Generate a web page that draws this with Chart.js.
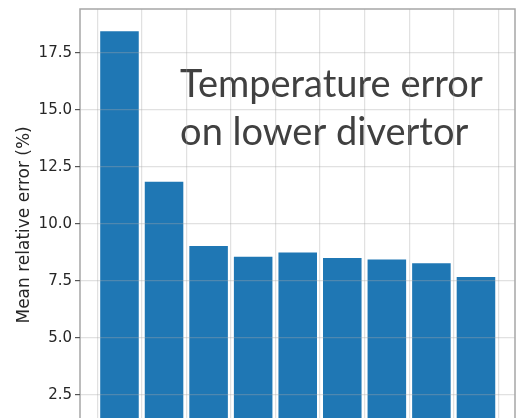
<!DOCTYPE html>
<html>
<head>
<meta charset="utf-8">
<script src="https://cdn.jsdelivr.net/npm/chart.js@4"></script>
<style>
  html, body { margin: 0; padding: 0; background: #fff; overflow: hidden; }
  #wrap { width: 523px; height: 418px; }
</style>
</head>
<body>
<div id="wrap"><canvas id="errChart" width="523" height="418"></canvas></div>
<script>
// bar positions and mean relative errors (%)
const positions = [0, 1, 2, 3, 4, 5, 6, 7, 8];
const errors = [18.5, 11.9, 9.08, 8.61, 8.79, 8.55, 8.49, 8.32, 7.72];
const yTicks = [2.5, 5.0, 7.5, 10.0, 12.5, 15.0, 17.5];
const xGrid = [-0.5, 0.5, 1.5, 2.5, 3.5, 4.5, 5.5, 6.5, 7.5, 8.5];
const yTitle = "Mean relative error (%)";
const noteLines = ["Temperature error", "on lower divertor"];

// spines, y title and the text note
const framePlugin = {
  id: "frame",
  afterDatasetsDraw(chart) {
    const { ctx, chartArea: a, scales } = chart;
    ctx.save();
    ctx.strokeStyle = "#a6a6a6";
    ctx.lineWidth = 1.5;
    ctx.beginPath();
    ctx.moveTo(a.left, a.bottom);
    ctx.lineTo(a.left, a.top);
    ctx.lineTo(a.right, a.top);
    ctx.lineTo(a.right, a.bottom);
    ctx.stroke();

    // y axis title, centred where the full axis would be
    ctx.fillStyle = "#262626";
    ctx.font = "17px 'DejaVu Sans'";
    ctx.textAlign = "center";
    ctx.textBaseline = "middle";
    ctx.translate(25, scales.y.getPixelForValue(9.96));
    ctx.rotate(-Math.PI / 2);
    ctx.fillText(yTitle, 0, 0);
    ctx.restore();

    ctx.save();
    ctx.fillStyle = "#404040";
    ctx.font = "38px Lato";
    ctx.textAlign = "left";
    ctx.textBaseline = "alphabetic";
    const x = scales.x.getPixelForValue(1.36);
    ctx.fillText(noteLines[0], x, scales.y.getPixelForValue(15.57), 305);
    ctx.fillText(noteLines[1], x, scales.y.getPixelForValue(13.46), 305);
    ctx.restore();
  }
};

const ctx = document.getElementById("errChart").getContext("2d");
new Chart(ctx, {
  type: "bar",
  data: {
    datasets: [{
      data: positions.map((p, i) => ({ x: p, y: errors[i] })),
      backgroundColor: "#1f77b4",
      borderColor: "#ffffff",
      borderWidth: 1,
      categoryPercentage: 1.0,
      barPercentage: 0.91
    }]
  },
  options: {
    responsive: false,
    animation: false,
    layout: { padding: { top: 9, right: 8, bottom: 0, left: 0 } },
    plugins: {
      legend: { display: false },
      tooltip: { enabled: false }
    },
    scales: {
      x: {
        type: "linear",
        offset: false,
        min: -0.886,
        max: 8.876,
        afterBuildTicks: (s) => { s.ticks = xGrid.map(v => ({ value: v })); },
        afterFit: (s) => { s.height = 0; s.paddingLeft = 0; s.paddingRight = 0; },
        ticks: { display: false },
        border: { display: false },
        grid: { offset: false, color: "rgba(170,170,170,0.35)", lineWidth: 1.2, drawTicks: false, z: 1 }
      },
      y: {
        min: 1.49,
        max: 19.43,
        afterBuildTicks: (s) => { s.ticks = yTicks.map(v => ({ value: v })); },
        afterFit: (s) => { s.width = 80; s.paddingTop = 0; s.paddingBottom = 0; },
        ticks: {
          padding: 3,
          color: "#262626",
          font: { family: "DejaVu Sans", size: 15 },
          callback: (v) => Number(v).toFixed(1)
        },
        border: { display: false },
        grid: {
          color: "rgba(170,170,170,0.35)",
          lineWidth: 1.2,
          tickLength: 5,
          tickColor: "#555555",
          z: 1
        }
      }
    }
  },
  plugins: [framePlugin]
});
</script>
</body>
</html>
